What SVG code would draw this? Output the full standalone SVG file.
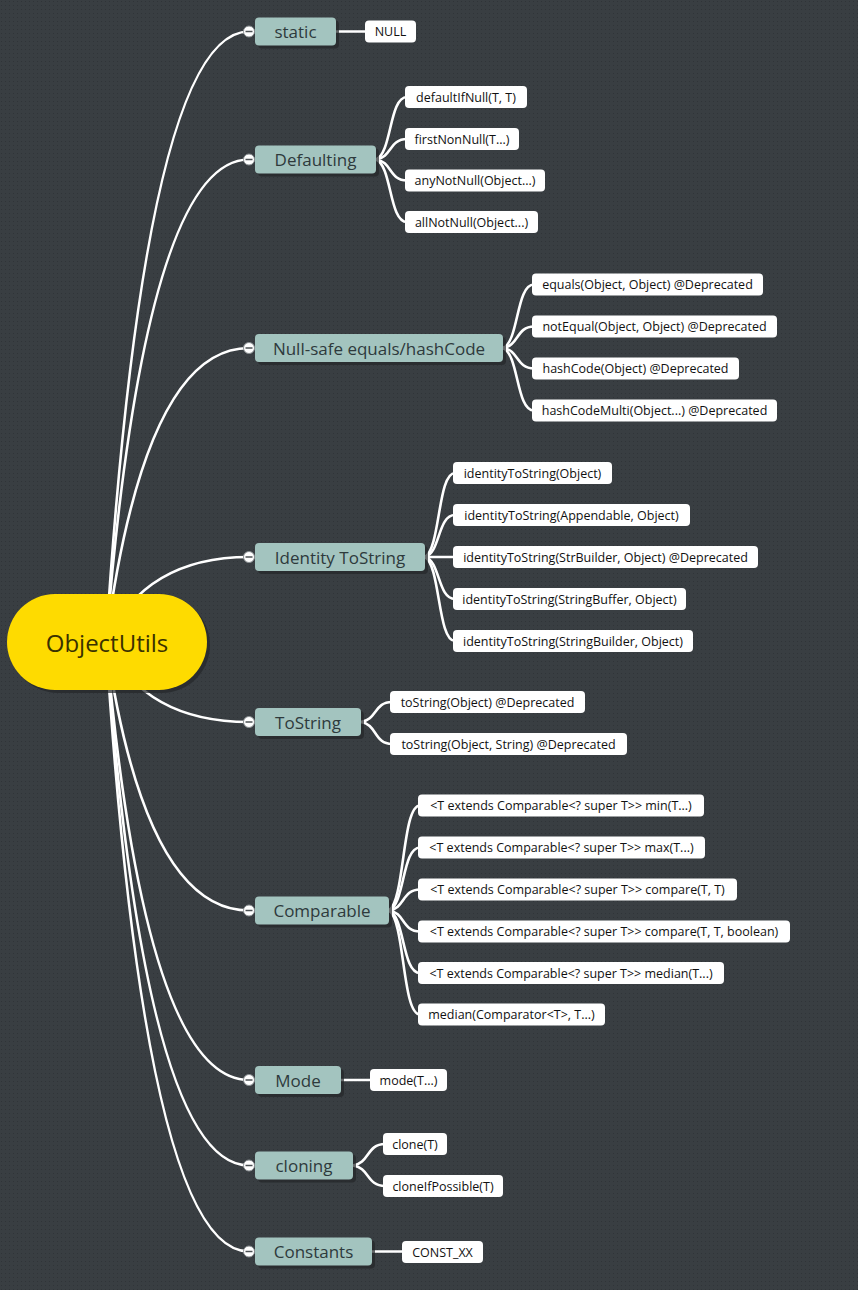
<svg xmlns="http://www.w3.org/2000/svg" width="858" height="1290" viewBox="0 0 858 1290">
<style>
.conn{fill:none;stroke:#ffffff;stroke-width:2.6;stroke-linecap:round}
.br{fill:#a3c4bf}
.sh{fill:#23272a;opacity:0.7}
.bt{font-family:"Open Sans","Noto Sans",sans-serif;font-size:17px;fill:#2e3a3c;text-anchor:middle;dominant-baseline:central}
.lf{fill:#ffffff}
.lt{font-family:"Open Sans","Noto Sans",sans-serif;font-size:12.5px;fill:#111111;text-anchor:middle;dominant-baseline:central}
.knob{fill:#ffffff;stroke:#8a8f92;stroke-width:1}
.minus{stroke:#4a4f52;stroke-width:1.5}
</style>
<defs>
<pattern id="dots" width="4" height="4" patternUnits="userSpaceOnUse">
<rect width="4" height="4" fill="#393e42"/>
<rect x="1" y="1" width="1" height="1" fill="#303438"/>
</pattern>
</defs>
<rect width="858" height="1290" fill="url(#dots)"/>
<g id="connectors">
<path class="conn" d="M106,642 Q145,31.5 249,31.5"/>
<path class="conn" d="M106,642 Q145,159.5 249,159.5"/>
<path class="conn" d="M106,642 Q145,348 249,348"/>
<path class="conn" d="M106,642 Q145,557 249,557"/>
<path class="conn" d="M106,642 Q145,722 249,722"/>
<path class="conn" d="M106,642 Q145,910.5 249,910.5"/>
<path class="conn" d="M106,642 Q145,1080 249,1080"/>
<path class="conn" d="M106,642 Q145,1165.5 249,1165.5"/>
<path class="conn" d="M106,642 Q145,1251.5 249,1251.5"/>
<path class="conn" d="M336,31.5 L367,31.5"/>
<path class="conn" d="M376,159.5 C392,153.25 389,97 407,97"/>
<path class="conn" d="M376,159.5 C392,157.5 389,139 407,139"/>
<path class="conn" d="M376,159.5 C392,161.6 389,180.5 407,180.5"/>
<path class="conn" d="M376,159.5 C392,165.75 389,222 407,222"/>
<path class="conn" d="M503,348 C519,341.65 516,284.5 534,284.5"/>
<path class="conn" d="M503,348 C519,345.85 516,326.5 534,326.5"/>
<path class="conn" d="M503,348 C519,350.05 516,368.5 534,368.5"/>
<path class="conn" d="M503,348 C519,354.25 516,410.5 534,410.5"/>
<path class="conn" d="M425,557 C440.4,548.6 437.6,473 455,473"/>
<path class="conn" d="M425,557 C440.4,552.8 437.6,515 455,515"/>
<path class="conn" d="M425,557 L455,557"/>
<path class="conn" d="M425,557 C440.4,561.2 437.6,599 455,599"/>
<path class="conn" d="M425,557 C440.4,565.4 437.6,641 455,641"/>
<path class="conn" d="M361,722 C377,720 374,702 392,702"/>
<path class="conn" d="M361,722 C377,724.2 374,744 392,744"/>
<path class="conn" d="M389,910.5 C405,900 402,805.5 420,805.5"/>
<path class="conn" d="M389,910.5 C405,904.2 402,847.5 420,847.5"/>
<path class="conn" d="M389,910.5 C405,908.4 402,889.5 420,889.5"/>
<path class="conn" d="M389,910.5 C405,912.6 402,931.5 420,931.5"/>
<path class="conn" d="M389,910.5 C405,916.75 402,973 420,973"/>
<path class="conn" d="M389,910.5 C405,920.9 402,1014.5 420,1014.5"/>
<path class="conn" d="M341,1080 L372,1080"/>
<path class="conn" d="M353,1165.5 C369.5,1163.35 366.5,1144 385,1144"/>
<path class="conn" d="M353,1165.5 C369.5,1167.55 366.5,1186 385,1186"/>
<path class="conn" d="M372,1251.5 L404,1251.5"/>
</g>
<g id="root">
<rect class="sh" x="10" y="597" width="200" height="96" rx="48"/>
<rect x="7" y="594" width="200" height="96" rx="48" fill="#fedb00"/>
<text x="107" y="642" font-family="'Open Sans','Noto Sans',sans-serif" font-size="24" fill="#3a3100" text-anchor="middle" dominant-baseline="central">ObjectUtils</text>
</g>
<g id="b-static">
<rect class="sh" x="258" y="20.5" width="81" height="28" rx="4"/>
<rect class="br" x="255" y="17.5" width="81" height="28" rx="4"/>
<text class="bt" x="295.5" y="31.5">static</text>
<circle class="knob" cx="249" cy="31.5" r="5.5"/><line class="minus" x1="245.5" y1="31.5" x2="252.5" y2="31.5"/>
</g>
<g id="l-null"><rect class="lf" x="365" y="20.5" width="51" height="22" rx="4"/><text class="lt" x="390.5" y="31.5">NULL</text></g>
<g id="b-defaulting">
<rect class="sh" x="258" y="148.5" width="121" height="28" rx="4"/>
<rect class="br" x="255" y="145.5" width="121" height="28" rx="4"/>
<text class="bt" x="315.5" y="159.5">Defaulting</text>
<circle class="knob" cx="249" cy="159.5" r="5.5"/><line class="minus" x1="245.5" y1="159.5" x2="252.5" y2="159.5"/>
</g>
<g id="l-defaultIfNull"><rect class="lf" x="405" y="86" width="122" height="22" rx="4"/><text class="lt" x="466" y="97">defaultIfNull(T, T)</text></g>
<g id="l-firstNonNull"><rect class="lf" x="405" y="128" width="114" height="22" rx="4"/><text class="lt" x="462" y="139">firstNonNull(T...)</text></g>
<g id="l-anyNotNull"><rect class="lf" x="405" y="169.5" width="140" height="22" rx="4"/><text class="lt" x="475" y="180.5">anyNotNull(Object...)</text></g>
<g id="l-allNotNull"><rect class="lf" x="405" y="211" width="133" height="22" rx="4"/><text class="lt" x="471.5" y="222">allNotNull(Object...)</text></g>
<g id="b-nullsafe">
<rect class="sh" x="258" y="337" width="248" height="28" rx="4"/>
<rect class="br" x="255" y="334" width="248" height="28" rx="4"/>
<text class="bt" x="379" y="348">Null-safe equals/hashCode</text>
<circle class="knob" cx="249" cy="348" r="5.5"/><line class="minus" x1="245.5" y1="348" x2="252.5" y2="348"/>
</g>
<g id="l-equals"><rect class="lf" x="532" y="273.5" width="231" height="22" rx="4"/><text class="lt" x="647.5" y="284.5">equals(Object, Object) @Deprecated</text></g>
<g id="l-notEqual"><rect class="lf" x="532" y="315.5" width="245" height="22" rx="4"/><text class="lt" x="654.5" y="326.5">notEqual(Object, Object) @Deprecated</text></g>
<g id="l-hashCode"><rect class="lf" x="532" y="357.5" width="207" height="22" rx="4"/><text class="lt" x="635.5" y="368.5">hashCode(Object) @Deprecated</text></g>
<g id="l-hashCodeMulti"><rect class="lf" x="532" y="399.5" width="245" height="22" rx="4"/><text class="lt" x="654.5" y="410.5">hashCodeMulti(Object...) @Deprecated</text></g>
<g id="b-identity">
<rect class="sh" x="258" y="546" width="170" height="28" rx="4"/>
<rect class="br" x="255" y="543" width="170" height="28" rx="4"/>
<text class="bt" x="340" y="557">Identity ToString</text>
<circle class="knob" cx="249" cy="557" r="5.5"/><line class="minus" x1="245.5" y1="557" x2="252.5" y2="557"/>
</g>
<g id="l-id1"><rect class="lf" x="453" y="462" width="159" height="22" rx="4"/><text class="lt" x="532.5" y="473">identityToString(Object)</text></g>
<g id="l-id2"><rect class="lf" x="453" y="504" width="237" height="22" rx="4"/><text class="lt" x="571.5" y="515">identityToString(Appendable, Object)</text></g>
<g id="l-id3"><rect class="lf" x="453" y="546" width="305" height="22" rx="4"/><text class="lt" x="605.5" y="557">identityToString(StrBuilder, Object) @Deprecated</text></g>
<g id="l-id4"><rect class="lf" x="453" y="588" width="233" height="22" rx="4"/><text class="lt" x="569.5" y="599">identityToString(StringBuffer, Object)</text></g>
<g id="l-id5"><rect class="lf" x="453" y="630" width="240" height="22" rx="4"/><text class="lt" x="573" y="641">identityToString(StringBuilder, Object)</text></g>
<g id="b-tostring">
<rect class="sh" x="258" y="711" width="106" height="28" rx="4"/>
<rect class="br" x="255" y="708" width="106" height="28" rx="4"/>
<text class="bt" x="308" y="722">ToString</text>
<circle class="knob" cx="249" cy="722" r="5.5"/><line class="minus" x1="245.5" y1="722" x2="252.5" y2="722"/>
</g>
<g id="l-ts1"><rect class="lf" x="390" y="691" width="195" height="22" rx="4"/><text class="lt" x="487.5" y="702">toString(Object) @Deprecated</text></g>
<g id="l-ts2"><rect class="lf" x="390" y="733" width="237" height="22" rx="4"/><text class="lt" x="508.5" y="744">toString(Object, String) @Deprecated</text></g>
<g id="b-comparable">
<rect class="sh" x="258" y="899.5" width="134" height="28" rx="4"/>
<rect class="br" x="255" y="896.5" width="134" height="28" rx="4"/>
<text class="bt" x="322" y="910.5">Comparable</text>
<circle class="knob" cx="249" cy="910.5" r="5.5"/><line class="minus" x1="245.5" y1="910.5" x2="252.5" y2="910.5"/>
</g>
<g id="l-c1"><rect class="lf" x="418" y="794.5" width="286" height="22" rx="4"/><text class="lt" x="561" y="805.5">&lt;T extends Comparable&lt;? super T&gt;&gt; min(T...)</text></g>
<g id="l-c2"><rect class="lf" x="418" y="836.5" width="287" height="22" rx="4"/><text class="lt" x="561.5" y="847.5">&lt;T extends Comparable&lt;? super T&gt;&gt; max(T...)</text></g>
<g id="l-c3"><rect class="lf" x="418" y="878.5" width="319" height="22" rx="4"/><text class="lt" x="577.5" y="889.5">&lt;T extends Comparable&lt;? super T&gt;&gt; compare(T, T)</text></g>
<g id="l-c4"><rect class="lf" x="418" y="920.5" width="372" height="22" rx="4"/><text class="lt" x="604" y="931.5">&lt;T extends Comparable&lt;? super T&gt;&gt; compare(T, T, boolean)</text></g>
<g id="l-c5"><rect class="lf" x="418" y="962" width="306" height="22" rx="4"/><text class="lt" x="571" y="973">&lt;T extends Comparable&lt;? super T&gt;&gt; median(T...)</text></g>
<g id="l-c6"><rect class="lf" x="418" y="1003.5" width="187" height="22" rx="4"/><text class="lt" x="511.5" y="1014.5">median(Comparator&lt;T&gt;, T...)</text></g>
<g id="b-mode">
<rect class="sh" x="258" y="1069" width="86" height="28" rx="4"/>
<rect class="br" x="255" y="1066" width="86" height="28" rx="4"/>
<text class="bt" x="298" y="1080">Mode</text>
<circle class="knob" cx="249" cy="1080" r="5.5"/><line class="minus" x1="245.5" y1="1080" x2="252.5" y2="1080"/>
</g>
<g id="l-mode"><rect class="lf" x="370" y="1069" width="77" height="22" rx="4"/><text class="lt" x="408.5" y="1080">mode(T...)</text></g>
<g id="b-cloning">
<rect class="sh" x="258" y="1154.5" width="98" height="28" rx="4"/>
<rect class="br" x="255" y="1151.5" width="98" height="28" rx="4"/>
<text class="bt" x="304" y="1165.5">cloning</text>
<circle class="knob" cx="249" cy="1165.5" r="5.5"/><line class="minus" x1="245.5" y1="1165.5" x2="252.5" y2="1165.5"/>
</g>
<g id="l-clone"><rect class="lf" x="383" y="1133" width="64" height="22" rx="4"/><text class="lt" x="415" y="1144">clone(T)</text></g>
<g id="l-cloneIfPossible"><rect class="lf" x="383" y="1175" width="120" height="22" rx="4"/><text class="lt" x="443" y="1186">cloneIfPossible(T)</text></g>
<g id="b-constants">
<rect class="sh" x="258" y="1240.5" width="117" height="28" rx="4"/>
<rect class="br" x="255" y="1237.5" width="117" height="28" rx="4"/>
<text class="bt" x="313.5" y="1251.5">Constants</text>
<circle class="knob" cx="249" cy="1251.5" r="5.5"/><line class="minus" x1="245.5" y1="1251.5" x2="252.5" y2="1251.5"/>
</g>
<g id="l-const"><rect class="lf" x="402" y="1241" width="81" height="22" rx="4"/><text class="lt" x="442.5" y="1252">CONST_XX</text></g>
</svg>
